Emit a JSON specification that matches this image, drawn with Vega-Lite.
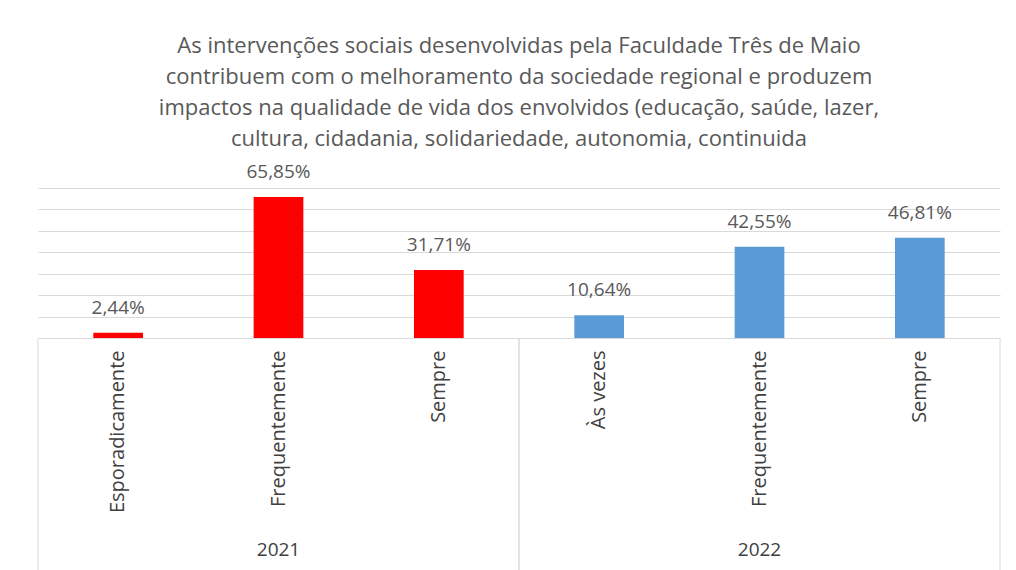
{
  "$schema": "https://vega.github.io/schema/vega-lite/v6.json",
  "width": 962,
  "height": 150,
  "autosize": {"type": "none"},
  "padding": {"left": 38, "top": 188, "right": 16, "bottom": 232},
  "background": "white",
  "title": {
    "text": [
      "As intervenções sociais desenvolvidas pela Faculdade Três de Maio",
      "contribuem com  o melhoramento  da sociedade regional e produzem",
      "impactos na qualidade de vida dos envolvidos (educação, saúde, lazer,",
      "cultura, cidadania, solidariedade, autonomia, continuida"
    ],
    "anchor": "middle",
    "font": "Open Sans",
    "fontSize": 22,
    "fontWeight": "normal",
    "color": "#595959",
    "lineHeight": 31,
    "offset": 12
  },
  "config": {
    "view": {"stroke": null},
    "locale": {
      "number": {"decimal": ",", "thousands": ".", "grouping": [3], "currency": ["R$", ""]}
    }
  },
  "datasets": {
    "bars": [
      {"key": "2021|Esporadicamente", "year": "2021", "pct": 0.0244},
      {"key": "2021|Frequentemente", "year": "2021", "pct": 0.6585},
      {"key": "2021|Sempre", "year": "2021", "pct": 0.3171},
      {"key": "2022|Às vezes", "year": "2022", "pct": 0.1064},
      {"key": "2022|Frequentemente", "year": "2022", "pct": 0.4255},
      {"key": "2022|Sempre", "year": "2022", "pct": 0.4681}
    ],
    "years": [{"year": "2021"}, {"year": "2022"}]
  },
  "resolve": {"scale": {"x": "independent"}, "axis": {"y": "independent"}},
  "layer": [
    {
      "layer": [
        {
          "mark": {"type": "bar"},
          "encoding": {
            "color": {
              "field": "year",
              "type": "nominal",
              "scale": {"domain": ["2021", "2022"], "range": ["#FF0000", "#5B9BD5"]},
              "legend": null
            }
          }
        },
        {
          "mark": {"type": "text", "baseline": "middle", "dy": -25, "font": "Open Sans", "fontSize": 19, "color": "#595959"},
          "encoding": {
            "text": {"field": "pct", "type": "quantitative", "format": ".2%"}
          }
        }
      ],
      "data": {"name": "bars"},
      "encoding": {
        "x": {
          "field": "key",
          "type": "nominal",
          "sort": null,
          "scale": {"paddingInner": 0.69, "paddingOuter": 0.345},
          "axis": {
            "title": null,
            "domain": true,
            "domainColor": "#d9d9d9",
            "ticks": false,
            "grid": false,
            "labelAngle": -90,
            "labelAlign": "right",
            "labelBaseline": "middle",
            "labelPadding": 12,
            "labelFont": "Open Sans",
            "labelFontSize": 20,
            "labelColor": "#404040",
            "labelLimit": 300,
            "labelExpr": "split(datum.value, '|')[1]"
          }
        },
        "y": {
          "field": "pct",
          "type": "quantitative",
          "scale": {"domain": [0, 0.7]},
          "axis": {
            "title": null,
            "labels": false,
            "ticks": false,
            "domain": false,
            "grid": true,
            "gridColor": "#d9d9d9",
            "labelOverlap": false,
            "values": [0.1, 0.2, 0.3, 0.4, 0.5, 0.6, 0.7]
          }
        }
      }
    },
    {
      "data": {"name": "years"},
      "mark": {"type": "rule", "color": "#d9d9d9"},
      "encoding": {
        "x": {"field": "year", "type": "nominal", "bandPosition": 0, "scale": {"paddingInner": 0, "paddingOuter": 0}, "axis": null},
        "y": {"datum": 0, "scale": {"domain": [0, 0.7]}, "axis": null},
        "y2": {"datum": -1.09}
      }
    },
    {
      "data": {"name": "years"},
      "mark": {"type": "rule", "color": "#d9d9d9"},
      "encoding": {
        "x": {"field": "year", "type": "nominal", "bandPosition": 1, "scale": {"paddingInner": 0, "paddingOuter": 0}, "axis": null},
        "y": {"datum": 0, "scale": {"domain": [0, 0.7]}, "axis": null},
        "y2": {"datum": -1.09}
      }
    },
    {
      "data": {"name": "years"},
      "mark": {"type": "text", "baseline": "middle", "font": "Open Sans", "fontSize": 19, "color": "#404040"},
      "encoding": {
        "x": {"field": "year", "type": "nominal", "scale": {"paddingInner": 0, "paddingOuter": 0}, "axis": null},
        "y": {"datum": -0.99, "scale": {"domain": [0, 0.7]}, "axis": null},
        "text": {"field": "year"}
      }
    }
  ]
}
